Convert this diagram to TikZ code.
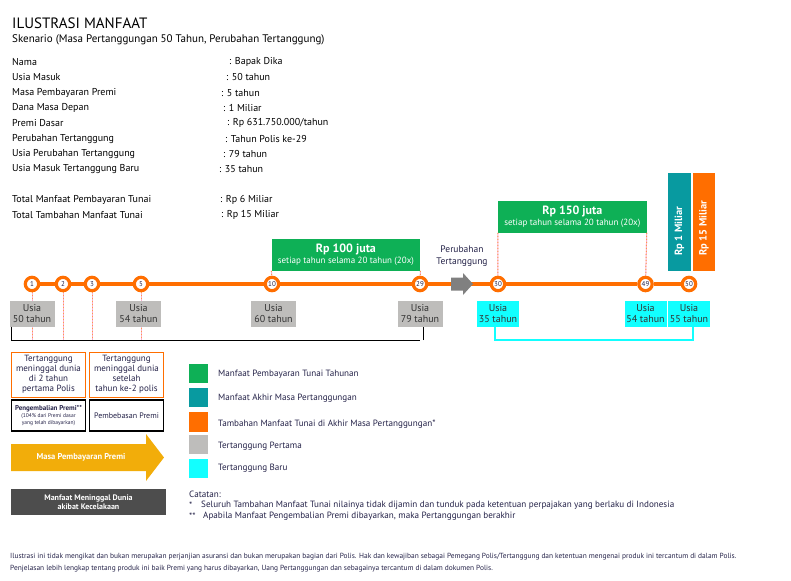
\documentclass[tikz,border=0pt]{standalone}
\usepackage{fontspec}
\setmainfont{PT Sans}
\usetikzlibrary{positioning}
\definecolor{tlorange}{RGB}{255,110,0}
\definecolor{benefitgreen}{RGB}{14,176,86}
\definecolor{endteal}{RGB}{8,154,160}
\definecolor{firstgray}{RGB}{190,189,187}
\definecolor{newcyan}{RGB}{18,255,255}
\definecolor{payyellow}{RGB}{242,173,10}
\definecolor{darkbox}{RGB}{77,77,77}
\definecolor{textnavy}{RGB}{36,34,72}
\definecolor{dashpink}{RGB}{250,175,205}
\definecolor{arrowgray}{RGB}{128,128,128}
\newcommand{\setfs}[2]{\fontsize{#1}{#2}\selectfont}
\begin{document}
\begin{tikzpicture}[x=1pt,y=-1pt,
  row/.style={anchor=west, inner sep=0pt, font=\setfs{10}{12}},
  yr/.style={circle, draw=tlorange, line width=3.2pt, fill=white, minimum size=13.4pt, inner sep=0pt, font=\setfs{7}{8}, text=textnavy},
  tl/.style={draw=tlorange, line width=3.5pt},
  pinkdash/.style={draw=dashpink, line width=1pt, postaction={draw=tlorange!70, dash pattern=on 1pt off 2pt}},
  oldage/.style={fill=firstgray, minimum width=45pt, minimum height=26pt, inner sep=0pt, align=center, font=\setfs{10}{11}, text=black!80},
  newage/.style={oldage, fill=newcyan, minimum width=42pt},
  benefit/.style={fill=benefitgreen, minimum width=148.5pt, minimum height=31.7pt, inner sep=0pt, align=center, text=white},
  endbar/.style={minimum width=22.5pt, minimum height=98pt, inner sep=0pt},
  casebox/.style={draw=tlorange, line width=0.9pt, minimum width=74pt, minimum height=45pt, inner sep=0pt, align=center, font=\setfs{9}{10}, text=textnavy},
  rulebox/.style={draw=black, line width=1.1pt, minimum width=74pt, minimum height=31pt, inner sep=0pt, align=center, font=\setfs{6}{7}, text=textnavy},
  swatch/.style={minimum width=19pt, minimum height=19pt, inner sep=0pt},
  legend/.style={anchor=west, inner sep=0pt, font=\setfs{9.1}{11}, text=textnavy}
]
\useasboundingbox (0,0) rectangle (791,580);

% header
\node[anchor=west, inner sep=0pt, font=\setfs{15}{17}] (title) at (12,23) {ILUSTRASI MANFAAT};
\node[anchor=west, inner sep=0pt, font=\setfs{11}{13}] (scenario) at (12,40) {Skenario (Masa Pertanggungan 50 Tahun, Perubahan Tertanggung)};

% data
\node[row] (k1) at (12,62) {Nama};
\node[row] (v1) at (229,62) {: Bapak Dika};
\node[row] (k2) at (12,77) {Usia Masuk};
\node[row] (v2) at (226,77) {: 50 tahun};
\node[row] (k3) at (12,93) {Masa Pembayaran Premi};
\node[row] (v3) at (221,93) {: 5 tahun};
\node[row] (k4) at (12,108) {Dana Masa Depan};
\node[row] (v4) at (223,108) {: 1 Miliar};
\node[row] (k5) at (12,123) {Premi Dasar};
\node[row] (v5) at (227,123) {: Rp 631.750.000/tahun};
\node[row] (k6) at (12,139) {Perubahan Tertanggung};
\node[row] (v6) at (225,139) {: Tahun Polis ke-29};
\node[row] (k7) at (12,154) {Usia Perubahan Tertanggung};
\node[row] (v7) at (223,154) {: 79 tahun};
\node[row] (k8) at (12,169) {Usia Masuk Tertanggung Baru};
\node[row] (v8) at (219,169) {: 35 tahun};
\node[row] (k9) at (12,200) {Total Manfaat Pembayaran Tunai};
\node[row] (v9) at (220,200) {: Rp 6 Miliar};
\node[row] (k10) at (12,215) {Total Tambahan Manfaat Tunai};
\node[row] (v10) at (221,215) {: Rp 15 Miliar};

% benefit bars
\node[benefit] (g1) at (345.9,254.9) {{\setfs{12}{13}\bfseries Rp 100 juta}\\[-1pt]{\setfs{9}{10}setiap tahun selama 20 tahun (20x)}};
\node[benefit] (g2) at (572.3,216.9) {{\setfs{12}{13}\bfseries Rp 150 juta}\\[-1pt]{\setfs{9}{10}setiap tahun selama 20 tahun (20x)}};
\node[endbar, fill=endteal] (teal) at (679.4,221.7) {};
\node[endbar, fill=tlorange, minimum width=22pt] (extra) at (704,221.7) {};
\node[rotate=90, anchor=west, inner sep=0pt, text=white, font=\setfs{10.5}{11}\bfseries] (tealtxt) at (679.4,256) {Rp 1 Miliar};
\node[rotate=90, anchor=west, inner sep=0pt, text=white, font=\setfs{10.5}{11}\bfseries] (extratxt) at (704,256) {Rp 15 Miliar};

% timeline
\node[yr] (c1) at (32,284) {1};
\node[yr] (c2) at (63,284) {2};
\node[yr] (c3) at (92,284) {3};
\node[yr] (c5) at (141,284) {5};
\node[yr] (c10) at (272,284) {10};
\node[yr] (c29) at (420,284) {29};
\node[yr] (c30) at (498,284) {30};
\node[yr] (c49) at (645.5,284) {49};
\node[yr] (c50) at (689,284) {50};
\draw[tl] (c1) -- (c2) -- (c3) -- (c5) -- (c10) -- (c29) -- (c30) -- (c49) -- (c50);
\node[inner sep=0pt, align=center, font=\setfs{9.5}{12}, text=textnavy] (swap) at (462,256) {Perubahan\\Tertanggung};
\fill[arrowgray] (451,277.5) -- (463,277.5) -- (463,273) -- (473,284) -- (463,295) -- (463,290.5) -- (451,290.5) -- cycle;

\coordinate (base) at (0,340);
\draw[pinkdash] (g1.south west) -- (c10);
\draw[pinkdash] (g1.south east) -- (c29);
\draw[pinkdash] (g2.south west) -- (c30);
\draw[pinkdash] (g2.south east) -- (c49);
\foreach \c in {c1,c2,c3,c5}
  \draw[pinkdash] (\c) -- (\c |- base);

% ages
\node[oldage, below=8pt of c1] (a50) {Usia\\50 tahun};
\node[oldage, below=8pt of c5, xshift=-2.5pt] (a54) {Usia\\54 tahun};
\node[oldage, below=8pt of c10, xshift=1.5pt] (a60) {Usia\\60 tahun};
\node[oldage, below=8pt of c29] (a79) {Usia\\79 tahun};
\node[newage, below=8pt of c30] (b35) {Usia\\35 tahun};
\node[newage, below=8pt of c49] (b54) {Usia\\54 tahun};
\node[newage, below=8pt of c50] (b55) {Usia\\55 tahun};
\draw[black, line width=0.9pt] ([xshift=-20.5pt]a50.south) |- (base -| a79.south) ++(3.5,0) |- ([xshift=3.5pt]a79.south);
\draw[newcyan, line width=1.2pt] ([xshift=-3pt]b35.south) |- ([xshift=4pt]b55.south |- base) -- ([xshift=4pt]b55.south);

% cases
\node[casebox] (early) at (48.5,374.5) {Tertanggung\\meninggal dunia\\di 2 tahun\\pertama Polis};
\node[casebox] (late) at (126.5,374.5) {Tertanggung\\meninggal dunia\\setelah\\tahun ke-2 polis};
\node[rulebox] (refund) at (48.5,415.5) {{\setfs{7}{8}\bfseries Pengembalian Premi**}\\{\setfs{5.5}{6.5}(104\% dari Premi dasar}\\{\setfs{5.5}{6.5}yang telah dibayarkan)}};
\node[rulebox, font=\setfs{8}{9}] (waiver) at (126.5,415.5) {Pembebasan Premi};
\fill[payyellow] (11,444) -- (146,444) -- (146,434) -- (164,457.5) -- (146,481) -- (146,471) -- (11,471) -- cycle;
\node[inner sep=0pt, text=white, font=\setfs{8.5}{10}\bfseries] (paytxt) at (81,457.5) {Masa Pembayaran Premi};
\node[fill=darkbox, minimum width=155pt, minimum height=26pt, inner sep=0pt, align=center, text=white, font=\setfs{8}{9.5}\bfseries] (accident) at (88.5,502) {Manfaat Meninggal Dunia\\akibat Kecelakaan};

% legend
\node[swatch, fill=benefitgreen] (s1) at (198.5,373.5) {};
\node[swatch, fill=endteal] (s2) at (198.5,397.5) {};
\node[swatch, fill=tlorange, minimum height=20pt] (s3) at (198.5,422) {};
\node[swatch, fill=firstgray] (s4) at (198.5,444.5) {};
\node[swatch, fill=newcyan] (s5) at (198.5,468.5) {};
\node[legend] (l1) at (218,374) {Manfaat Pembayaran Tunai Tahunan};
\node[legend] (l2) at (218,398) {Manfaat Akhir Masa Pertanggungan};
\node[legend] (l3) at (218,424) {Tambahan Manfaat Tunai di Akhir Masa Pertanggungan*};
\node[legend] (l4) at (218,446) {Tertanggung Pertama};
\node[legend] (l5) at (218,468) {Tertanggung Baru};

% notes
\node[legend, anchor=west] (notes) at (189,494) {Catatan:};
\node[legend] (star1) at (189,505.5) {*};
\node[legend] (n1) at (201,505) {Seluruh Tambahan Manfaat Tunai nilainya tidak dijamin dan tunduk pada ketentuan perpajakan yang berlaku di Indonesia};
\node[legend] (star2) at (189,516.5) {**};
\node[legend] (n2) at (203,516) {Apabila Manfaat Pengembalian Premi dibayarkan, maka Pertanggungan berakhir};

% footer
\node[anchor=west, inner sep=0pt, font=\setfs{7.4}{9}, text=textnavy] (foot1) at (10,557) {Ilustrasi ini tidak mengikat dan bukan merupakan perjanjian asuransi dan bukan merupakan bagian dari Polis. Hak dan kewajiban sebagai Pemegang Polis/Tertanggung dan ketentuan mengenai produk ini tercantum di dalam Polis.};
\node[anchor=west, inner sep=0pt, font=\setfs{7.4}{9}, text=textnavy] (foot2) at (10,569) {Penjelasan lebih lengkap tentang produk ini baik Premi yang harus dibayarkan, Uang Pertanggungan dan sebagainya tercantum di dalam dokumen Polis.};
\end{tikzpicture}
\end{document}
